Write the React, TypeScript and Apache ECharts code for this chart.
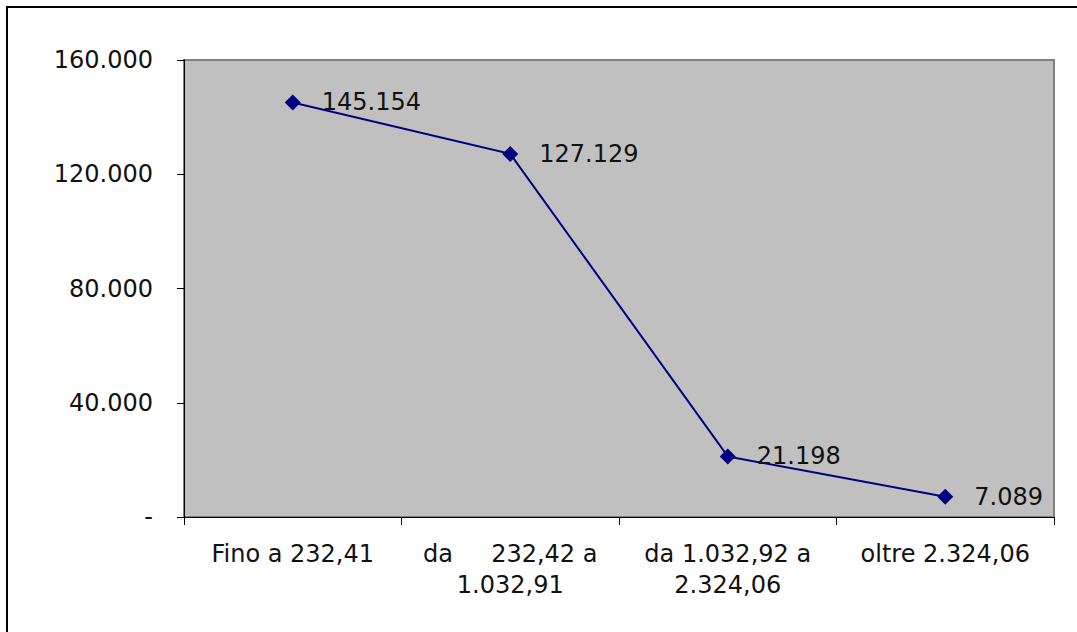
import React, { useEffect, useRef } from "react";
import * as echarts from "echarts";

const categories = [
  "Fino a 232,41",
  "da     232,42 a\n1.032,91",
  "da 1.032,92 a\n2.324,06",
  "oltre 2.324,06",
];
const values = [145154, 127129, 21198, 7089];
const yMin = 0;
const yMax = 160000;
const yInterval = 40000;

const fmt = (v: number) => {
  if (v === 0) return "-";
  return String(Math.round(v)).replace(/\B(?=(\d{3})+(?!\d))/g, ".");
};

const FONT = "DejaVu Sans";
const FS = 24;

export default function App() {
  const ref = useRef<HTMLDivElement>(null);
  useEffect(() => {
    if (!ref.current) return;
    const chart = echarts.init(ref.current, undefined, { renderer: "svg" });
    chart.setOption({
      animation: false,
      backgroundColor: "#ffffff",
      textStyle: { fontFamily: FONT },
      graphic: [
        {
          type: "rect",
          shape: { x: 7, y: 7, width: 1100, height: 660 },
          style: { fill: "none", stroke: "#000", lineWidth: 2 },
          z: 100,
        },
      ],
      grid: {
        left: 184,
        top: 60,
        right: 23,
        bottom: 115,
        show: true,
        backgroundColor: "#c0c0c0",
        borderColor: "#808080",
        borderWidth: 2,
      },
      xAxis: {
        type: "category",
        data: categories,
        boundaryGap: true,
        axisLine: { show: true, lineStyle: { color: "#000", width: 1 } },
        axisTick: { show: true, length: 8, lineStyle: { color: "#000" } },
        axisLabel: {
          color: "#111",
          fontFamily: FONT,
          fontSize: FS,
          lineHeight: 31,
          margin: 21,
          interval: 0,
          align: "center",
        },
        splitLine: { show: false },
      },
      yAxis: {
        type: "value",
        min: yMin,
        max: yMax,
        interval: yInterval,
        axisLine: { show: true, lineStyle: { color: "#000", width: 1 } },
        axisTick: { show: true, length: 7, lineStyle: { color: "#000" } },
        axisLabel: {
          color: "#111",
          fontFamily: FONT,
          fontSize: FS,
          margin: 31,
          formatter: (v: number) => fmt(v),
        },
        splitLine: { show: false },
      },
      series: [
        {
          type: "line",
          data: values,
          symbol: "diamond",
          symbolSize: 16,
          lineStyle: { color: "#000080", width: 2 },
          itemStyle: { color: "#000080" },
          label: {
            show: true,
            position: "right",
            distance: 21,
            color: "#111",
            fontFamily: FONT,
            fontSize: FS,
            formatter: (p: any) => fmt(p.value),
          },
        },
      ],
    });
    return () => chart.dispose();
  }, []);
  return (
    <div
      ref={ref}
      style={{ position: "absolute", left: 0, top: 0, width: 1077, height: 632 }}
    />
  );
}
